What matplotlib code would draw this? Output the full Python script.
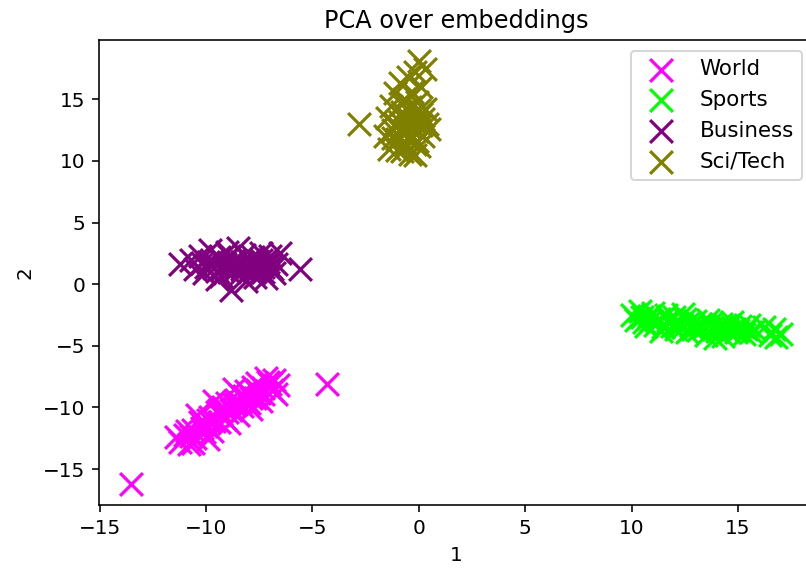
import matplotlib.pyplot as plt

# 2-D PCA projection of the sentence embeddings, one list per class
world_x = [-11.2, -11.0, -10.8, -10.6, -10.5, -10.3, -10.1, -10.0, -9.8, -9.7,
           -9.5, -9.4, -9.2, -9.1, -9.0, -8.9, -8.8, -8.6, -8.5, -8.4,
           -8.3, -8.1, -8.0, -7.9, -7.8, -7.7, -7.6, -7.5, -7.3, -7.2,
           -7.0, -6.9, -6.8, -6.6, -9.6, -10.4, -8.7, -9.9, -11.4, -7.4,
           -10.9, -10.7, -10.2, -9.9, -9.6, -9.3, -9.0, -8.7, -8.4, -8.2,
           -7.9, -7.6, -7.3, -7.1, -6.7, -10.6, -9.4, -8.6, -8.0, -7.7,
           -13.5, -4.3]
world_y = [-12.8, -12.2, -13.0, -11.8, -12.5, -11.2, -12.0, -11.5, -10.8, -11.9,
           -10.4, -11.2, -10.0, -10.9, -9.6, -11.3, -10.2, -9.4, -10.6, -9.0,
           -9.9, -8.7, -9.6, -10.1, -8.3, -9.2, -8.0, -8.8, -8.4, -7.6,
           -8.1, -8.6, -7.8, -8.2, -9.5, -10.6, -8.5, -12.6, -12.4, -9.5,
           -11.9, -12.3, -11.7, -11.0, -11.1, -10.5, -10.4, -9.8, -9.6, -9.1,
           -9.2, -8.6, -8.9, -7.9, -8.9, -12.9, -10.2, -9.7, -8.9, -8.6,
           -16.2, -8.1]

sports_x = [10.0, 10.2, 10.4, 10.6, 10.8, 11.0, 11.1, 11.3, 11.5, 11.6,
            11.8, 12.0, 12.1, 12.3, 12.5, 12.6, 12.8, 13.0, 13.1, 13.3,
            13.5, 13.6, 13.8, 14.0, 14.2, 14.3, 14.5, 14.7, 14.9, 15.1,
            15.3, 15.5, 15.8, 16.2, 16.5, 16.7, 17.0, 16.8, 12.4, 11.4, 13.9,
            10.5, 10.9, 11.2, 11.7, 12.2, 12.7, 12.9, 13.4, 13.7, 14.1,
            14.4, 14.8, 15.0, 15.4, 15.6, 11.9, 12.4, 13.2, 14.6, 10.7]
sports_y = [-2.5, -2.9, -2.2, -3.1, -2.6, -2.3, -3.3, -2.8, -3.5, -2.5,
            -3.0, -2.7, -3.6, -3.2, -2.8, -3.9, -3.4, -3.0, -3.7, -3.3,
            -4.1, -2.9, -3.5, -3.8, -3.2, -4.2, -3.6, -3.1, -3.9, -3.4,
            -4.0, -3.3, -3.7, -3.5, -4.1, -3.6, -4.0, -4.3, -2.4, -3.8, -4.4,
            -2.7, -2.9, -3.0, -2.9, -3.2, -3.1, -3.6, -3.5, -3.2, -3.5,
            -3.3, -3.6, -3.7, -3.6, -3.9, -3.4, -3.5, -3.2, -3.9, -3.4]

business_x = [-11.2, -10.5, -10.3, -10.1, -9.9, -9.8, -9.6, -9.4, -9.3, -9.1,
              -9.0, -8.9, -8.8, -8.7, -8.6, -8.5, -8.4, -8.3, -8.2, -8.0,
              -7.9, -7.8, -7.7, -7.5, -7.4, -7.3, -7.1, -7.0, -6.9, -6.7,
              -6.5, -5.6, -10.7, -9.5, -8.1, -7.2, -6.8,
              -10.0, -9.7, -9.2, -8.9, -8.6, -8.3, -8.0, -7.6, -7.3, -7.0,
              -9.5, -8.7, -7.8, -10.2, -7.4]
business_y = [1.6, 1.2, 2.3, 0.9, 1.8, 2.8, 1.3, 2.2, 0.7, 1.6,
              2.6, 1.0, -0.5, 2.0, 1.4, 2.9, 0.8, 1.8, 2.4, 1.1,
              1.6, 2.2, 0.6, 1.4, 2.5, 1.0, 1.8, 2.3, 1.2, 1.6,
              2.5, 1.2, 2.0, 0.4, 0.3, 0.5, 0.9,
              1.4, 1.9, 1.3, 2.3, 1.8, 1.2, 2.0, 1.9, 1.4, 1.4,
              1.1, 1.1, 1.2, 1.7, 2.0]

scitech_x = [-2.8, -1.6, -1.5, -1.4, -1.3, -1.2, -1.1, -1.0, -0.9, -0.9,
             -0.8, -0.8, -0.7, -0.7, -0.6, -0.6, -0.5, -0.5, -0.4, -0.4,
             -0.3, -0.3, -0.2, -0.2, -0.1, -0.1, 0.0, 0.0, 0.1, 0.1,
             0.2, 0.3, 0.3, 0.4, 0.5, -1.0, -0.2,
             -1.1, -0.9, -0.7, -0.5, -0.3, -0.1, 0.1, -0.8, -0.4, 0.0,
             -0.6, -0.2, -1.2, 0.2]
scitech_y = [13.0, 12.0, 13.5, 11.0, 14.5, 12.5, 15.5, 11.8, 13.2, 16.3,
             10.8, 14.0, 12.2, 15.0, 11.4, 13.6, 16.8, 12.8, 14.4, 10.6,
             11.9, 15.6, 13.1, 17.2, 12.4, 14.8, 18.1, 11.2, 13.8, 16.0,
             12.0, 14.2, 17.5, 13.0, 12.6, 10.9, 10.5,
             13.0, 12.6, 13.4, 11.8, 13.7, 11.6, 12.9, 14.6, 12.1, 14.1,
             12.5, 11.4, 11.9, 13.4]

labels = ['World', 'Sports', 'Business', 'Sci/Tech']
colors = ['magenta', 'lime', 'purple', 'olive']
xs = [world_x, sports_x, business_x, scitech_x]
ys = [world_y, sports_y, business_y, scitech_y]

fig = plt.figure(figsize=(806 / 144, 568 / 144), dpi=144)
ax = fig.add_axes([99 / 806, 63 / 568, 714 / 806, 465 / 568])

for x, y, c, lab in zip(xs, ys, colors, labels):
    ax.scatter(x, y, marker='x', s=130, linewidths=1.6, c=c, label=lab)

ax.set_title('PCA over embeddings')
ax.set_xlabel('1')
ax.set_ylabel('2')
ax.legend(loc='upper right', fontsize=10.7)

fig.savefig('out.png', dpi=144)
